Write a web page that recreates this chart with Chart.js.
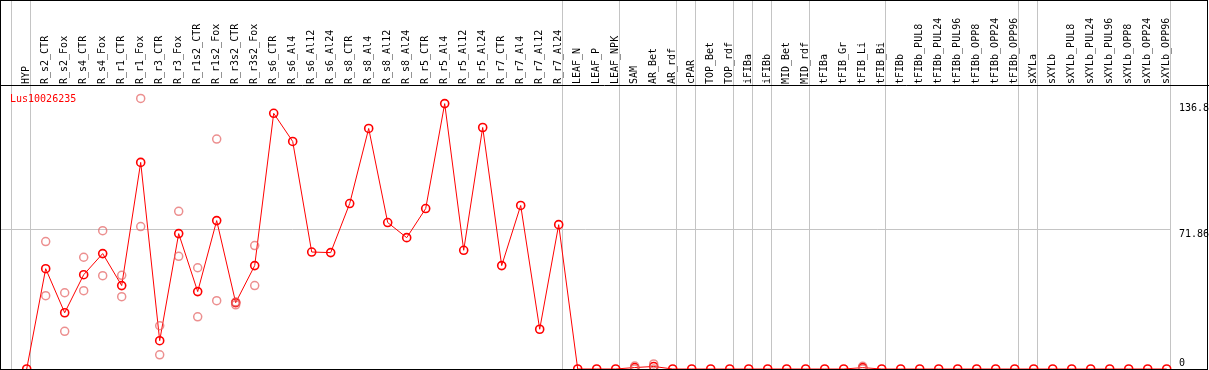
<!DOCTYPE html>
<html>
<head>
<meta charset="utf-8">
<script src="https://cdn.jsdelivr.net/npm/chart.js@4.4.0/dist/chart.umd.min.js"></script>
<style>
    html, body { margin: 0; padding: 0; background: #fff; }
    #wrap { width: 1209px; height: 370px; }
</style>
</head>
<body>
<div id="wrap"><canvas id="expr01" width="1209" height="370"></canvas></div>
<script>
const geneName = 'Lus10026235';

const categories = [
    'HYP', 'R_s2_CTR', 'R_s2_Fox', 'R_s4_CTR', 'R_s4_Fox', 'R_r1_CTR', 'R_r1_Fox', 'R_r3_CTR',
    'R_r3_Fox', 'R_r1s2_CTR', 'R_r1s2_Fox', 'R_r3s2_CTR', 'R_r3s2_Fox', 'R_s6_CTR', 'R_s6_Al4',
    'R_s6_Al12', 'R_s6_Al24', 'R_s8_CTR', 'R_s8_Al4', 'R_s8_Al12', 'R_s8_Al24', 'R_r5_CTR',
    'R_r5_Al4', 'R_r5_Al12', 'R_r5_Al24', 'R_r7_CTR', 'R_r7_Al4', 'R_r7_Al12', 'R_r7_Al24',
    'LEAF_N', 'LEAF_P', 'LEAF_NPK', 'SAM', 'AR_Bet', 'AR_rdf', 'cPAR', 'TOP_Bet', 'TOP_rdf',
    'iFIBa', 'iFIBb', 'MID_Bet', 'MID_rdf', 'tFIBa', 'tFIB_Gr', 'tFIB_Li', 'tFIB_Bi', 'tFIBb',
    'tFIBb_PUL8', 'tFIBb_PUL24', 'tFIBb_PUL96', 'tFIBb_OPP8', 'tFIBb_OPP24', 'tFIBb_OPP96',
    'sXYLa', 'sXYLb', 'sXYLb_PUL8', 'sXYLb_PUL24', 'sXYLb_PUL96', 'sXYLb_OPP8', 'sXYLb_OPP24',
    'sXYLb_OPP96',
];

// mean expression per sample
const meanValues = [
    0, 51.7, 29.0, 48.6, 59.5, 43.0, 106.5, 14.6, 69.8, 39.9, 76.5, 34.2, 53.3,
    131.8, 117.3, 60.3, 60.0, 85.3, 124.0, 75.5, 67.7, 82.7, 136.8, 61.2, 124.5,
    53.3, 84.3, 20.5, 74.4,
    0, 0, 0, 0.75, 1.3, 0, 0, 0, 0, 0, 0, 0, 0, 0, 0, 0.7, 0, 0,
    0, 0, 0, 0, 0, 0, 0, 0, 0, 0, 0, 0, 0, 0,
];

// replicate values (null = not shown)
const repHigh = [
    null, 65.7, 39.3, 57.6, 71.3, 48.3, 139.5, 22.3, 81.3, 52.2, 118.5, 34.5, 63.6,
    null, null, null, null, null, null, null, null, null, null, null, null,
    null, null, null, null,
    null, null, null, 1.5, 2.6, null, null, null, null, null, null, null, null, null, null, 1.4, null, null,
    null, null, null, null, null, null, null, null, null, null, null, null, null, null,
];
const repLow = [
    null, 37.8, 19.4, 40.4, 48.1, 37.3, 73.4, 7.3, 58.1, 26.9, 35.2, 33.1, 43.0,
    null, null, null, null, null, null, null, null, null, null, null, null,
    null, null, null, null,
    null, null, null, 0, 0, null, null, null, null, null, null, null, null, null, null, 0, null, null,
    null, null, null, null, null, null, null, null, null, null, null, null, null, null,
];

// last sample index of each group (separator drawn after it)
const groupEnds = [-1, 0, 28, 31, 34, 35, 37, 38, 39, 41, 45, 52, 53, 60];
const yTicks = [0, 71.86, 136.8];
const yMax = 146.4;

const FONT = '10px "DejaVu Sans Mono", monospace';
const GRID = '#c4c4c4';

const frameLabels = {
    id: 'frameLabels',
    beforeDatasetsDraw(chart) {
        const { ctx, scales: { x, y } } = chart;
        ctx.save();
        ctx.strokeStyle = GRID;
        ctx.lineWidth = 1;
        // group separators
        groupEnds.forEach((i) => {
            const px = Math.round(x.getPixelForValue(i) + 3.6) + 0.5;
            ctx.beginPath();
            ctx.moveTo(px, 0);
            ctx.lineTo(px, 370);
            ctx.stroke();
        });
        // middle horizontal grid
        const gy = Math.round(y.getPixelForValue(yTicks[1])) - 0.5;
        ctx.beginPath();
        ctx.moveTo(0, gy);
        ctx.lineTo(Math.round(x.getPixelForValue(60) + 3.6) + 0.5, gy);
        ctx.stroke();
        ctx.restore();
    },
    afterDraw(chart) {
        const { ctx, scales: { x, y } } = chart;
        ctx.save();
        ctx.font = FONT;
        ctx.fillStyle = '#000';
        ctx.textAlign = 'left';
        ctx.textBaseline = 'alphabetic';
        // rotated sample names
        categories.forEach((lab, i) => {
            const px = x.getPixelForValue(i);
            ctx.save();
            ctx.translate(px + 2, 84);
            ctx.rotate(-Math.PI / 2);
            ctx.fillText(lab, 0, 0);
            ctx.restore();
        });
        // y labels on the right
        yTicks.forEach((v) => {
            let py = y.getPixelForValue(v) + 7;
            if (v === 0) py = 366;
            ctx.fillText(String(v), 1179, py);
        });
        // gene name
        ctx.fillStyle = '#ff0000';
        ctx.fillText(geneName, 10, 101.5);
        // frame
        ctx.strokeStyle = '#000';
        ctx.lineWidth = 1;
        ctx.strokeRect(0.5, 0.5, 1207, 369);
        ctx.beginPath();
        ctx.moveTo(0, 85.5);
        ctx.lineTo(1209, 85.5);
        ctx.stroke();
        ctx.restore();
    },
};

const repStyle = {
    showLine: false,
    pointRadius: 4,
    pointBorderWidth: 1.5,
    pointBorderColor: 'rgba(228, 100, 100, 0.72)',
    pointBackgroundColor: 'rgba(0,0,0,0)',
    pointHoverRadius: 4,
};

const config = {
    type: 'line',
    data: {
        labels: categories,
        datasets: [
            { label: 'rep1', data: repHigh, ...repStyle },
            { label: 'rep2', data: repLow, ...repStyle },
            {
                label: geneName,
                data: meanValues,
                borderColor: '#ff0000',
                borderWidth: 1,
                tension: 0,
                pointRadius: 4,
                pointBorderWidth: 1.6,
                pointBorderColor: '#ff0000',
                pointBackgroundColor: 'rgba(0,0,0,0)',
                pointHoverRadius: 4,
            },
        ],
    },
    options: {
        responsive: false,
        animation: false,
        events: [],
        layout: {
            autoPadding: false,
            padding: { left: 17.2, right: 32.8, top: 85, bottom: 1 },
        },
        plugins: {
            legend: { display: false },
            title: { display: false },
            tooltip: { enabled: false },
        },
        scales: {
            x: {
                type: 'category',
                display: false,
                offset: true,
            },
            y: {
                display: false,
                min: 0,
                max: yMax,
            },
        },
    },
    plugins: [frameLabels],
};

const chart = new Chart(document.getElementById('expr01').getContext('2d'), config);
</script>
</body>
</html>
